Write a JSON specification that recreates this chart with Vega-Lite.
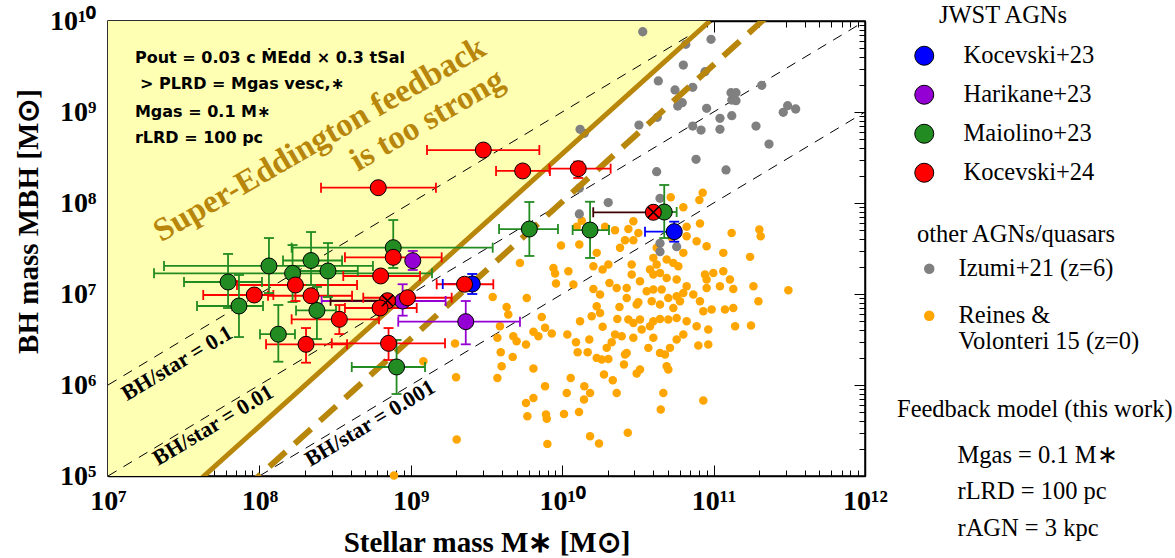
{
  "width": 757,
  "height": 455,
  "autosize": {"type": "none"},
  "padding": {"left": 108, "top": 21, "right": 310, "bottom": 82},
  "background": "white",
  "config": {
    "view": {"stroke": "black", "strokeWidth": 1.5},
    "font": "Liberation Serif",
    "axis": {"grid": false}
  },
  "datasets": {
    "feedback": [
      {"m": "solid", "lx": 7.0, "ly": 4.051},
      {"m": "solid", "lx": 10.976, "ly": 10.0},
      {"m": "dashed", "lx": 7.9, "ly": 4.854},
      {"m": "dashed", "lx": 11.4, "ly": 10.12}
    ],
    "ratios": [
      {"r": "0.1", "lx": 7, "ly": 6}, {"r": "0.1", "lx": 11, "ly": 10},
      {"r": "0.01", "lx": 7, "ly": 5}, {"r": "0.01", "lx": 12, "ly": 10},
      {"r": "0.001", "lx": 8, "ly": 5}, {"r": "0.001", "lx": 12, "ly": 9}
    ],
    "ratioLabels": [
      {"lx": 7.456, "ly": 6.242, "t": "BH/star = 0.1"},
      {"lx": 7.694, "ly": 5.56, "t": "BH/star = 0.01"},
      {"lx": 8.73, "ly": 5.582, "t": "BH/star = 0.001"}
    ],
    "notes": [
      {"lx": 7.178, "ly": 9.538, "t": "Pout = 0.03 c ṀEdd × 0.3 tSal"},
      {"lx": 7.211, "ly": 9.253, "t": "> PLRD = Mgas vesc,∗"},
      {"lx": 7.178, "ly": 8.945, "t": "Mgas = 0.1 M∗"},
      {"lx": 7.178, "ly": 8.659, "t": "rLRD = 100 pc"}
    ],
    "reines": [
      {"lx":9.992,"ly":7.532},{"lx":10.113,"ly":7.543},{"lx":10.228,"ly":7.452},{"lx":10.349,"ly":7.701},{"lx":10.382,"ly":7.507},{"lx":10.415,"ly":7.591},{"lx":10.470,"ly":7.591},{"lx":10.503,"ly":7.671},{"lx":10.470,"ly":7.800},{"lx":10.437,"ly":7.715},
      {"lx":9.721,"ly":7.342},{"lx":9.942,"ly":7.287},{"lx":9.953,"ly":7.225},{"lx":10.041,"ly":7.250},{"lx":9.959,"ly":7.115},{"lx":10.074,"ly":7.104},{"lx":10.206,"ly":7.305},{"lx":10.267,"ly":7.269},{"lx":10.305,"ly":7.323},{"lx":10.312,"ly":7.122},
      {"lx":10.206,"ly":7.056},{"lx":10.250,"ly":6.994},{"lx":10.360,"ly":7.067},{"lx":10.426,"ly":7.067},{"lx":10.426,"ly":6.957},{"lx":9.541,"ly":6.968},{"lx":9.766,"ly":6.957},{"lx":9.633,"ly":6.858},{"lx":9.644,"ly":6.774},{"lx":9.589,"ly":6.646},
      {"lx":9.865,"ly":6.748},{"lx":10.118,"ly":6.701},{"lx":10.195,"ly":6.756},{"lx":10.250,"ly":6.792},{"lx":10.228,"ly":6.866},{"lx":10.267,"ly":6.639},{"lx":10.378,"ly":6.858},{"lx":10.364,"ly":6.726},{"lx":10.437,"ly":6.719},{"lx":10.470,"ly":6.682},
      {"lx":10.503,"ly":6.910},{"lx":10.558,"ly":7.030},{"lx":10.602,"ly":7.049},{"lx":10.657,"ly":7.049},{"lx":10.580,"ly":7.269},{"lx":10.602,"ly":7.214},{"lx":10.646,"ly":7.232},{"lx":10.690,"ly":7.177},{"lx":10.756,"ly":7.159},{"lx":10.459,"ly":7.323},
      {"lx":10.459,"ly":7.214},{"lx":10.514,"ly":7.140},{"lx":10.602,"ly":7.397},{"lx":10.690,"ly":7.378},{"lx":10.734,"ly":7.342},{"lx":10.767,"ly":7.305},{"lx":10.624,"ly":7.323},{"lx":10.800,"ly":7.452},{"lx":10.723,"ly":7.617},{"lx":10.822,"ly":7.635},
      {"lx":10.888,"ly":7.580},{"lx":10.910,"ly":7.774},{"lx":10.954,"ly":7.525},{"lx":11.119,"ly":7.671},{"lx":11.302,"ly":7.708},{"lx":11.311,"ly":7.635},{"lx":11.064,"ly":7.452},{"lx":11.241,"ly":7.408},{"lx":10.943,"ly":7.214},{"lx":10.954,"ly":7.159},
      {"lx":10.998,"ly":7.232},{"lx":11.064,"ly":7.250},{"lx":11.108,"ly":7.159},{"lx":10.822,"ly":7.085},{"lx":10.800,"ly":7.012},{"lx":10.866,"ly":6.994},{"lx":10.910,"ly":6.921},{"lx":10.954,"ly":7.067},{"lx":11.042,"ly":7.085},{"lx":11.130,"ly":7.056},
      {"lx":11.263,"ly":7.085},{"lx":11.296,"ly":6.921},{"lx":11.494,"ly":7.041},{"lx":10.701,"ly":6.957},{"lx":10.756,"ly":6.976},{"lx":10.591,"ly":6.921},{"lx":10.646,"ly":6.884},{"lx":10.734,"ly":6.847},{"lx":10.778,"ly":6.921},{"lx":10.514,"ly":6.719},
      {"lx":10.580,"ly":6.646},{"lx":10.602,"ly":6.701},{"lx":10.646,"ly":6.726},{"lx":10.701,"ly":6.719},{"lx":10.756,"ly":6.737},{"lx":10.822,"ly":6.701},{"lx":10.888,"ly":6.646},{"lx":10.932,"ly":6.811},{"lx":10.987,"ly":6.829},{"lx":11.075,"ly":6.829},
      {"lx":11.130,"ly":6.847},{"lx":11.142,"ly":6.646},{"lx":11.247,"ly":6.653},{"lx":10.492,"ly":6.884},{"lx":9.572,"ly":6.518},{"lx":9.677,"ly":6.536},{"lx":9.699,"ly":6.481},{"lx":9.761,"ly":6.444},{"lx":9.810,"ly":6.584},{"lx":9.843,"ly":6.536},
      {"lx":9.887,"ly":6.628},{"lx":9.931,"ly":6.565},{"lx":10.034,"ly":6.554},{"lx":10.091,"ly":6.470},{"lx":10.102,"ly":6.360},{"lx":10.168,"ly":6.360},{"lx":10.179,"ly":6.499},{"lx":10.294,"ly":6.408},{"lx":10.327,"ly":6.470},{"lx":10.349,"ly":6.554},
      {"lx":10.393,"ly":6.536},{"lx":10.426,"ly":6.353},{"lx":10.470,"ly":6.518},{"lx":10.525,"ly":6.609},{"lx":10.602,"ly":6.518},{"lx":10.569,"ly":6.408},{"lx":10.646,"ly":6.353},{"lx":10.679,"ly":6.334},{"lx":10.712,"ly":6.408},{"lx":10.756,"ly":6.499},
      {"lx":10.800,"ly":6.554},{"lx":10.899,"ly":6.433},{"lx":10.965,"ly":6.609},{"lx":10.965,"ly":6.444},{"lx":9.594,"ly":6.360},{"lx":9.600,"ly":6.206},{"lx":9.673,"ly":6.309},{"lx":9.572,"ly":6.078},{"lx":9.810,"ly":6.181},{"lx":10.056,"ly":6.078},
      {"lx":10.146,"ly":5.986},{"lx":10.228,"ly":6.298},{"lx":10.261,"ly":6.280},{"lx":10.305,"ly":6.287},{"lx":10.276,"ly":6.115},{"lx":10.334,"ly":6.052},{"lx":10.408,"ly":6.225},{"lx":10.415,"ly":6.334},{"lx":10.492,"ly":6.126},{"lx":10.514,"ly":6.170},
      {"lx":10.690,"ly":6.206},{"lx":10.701,"ly":6.170},{"lx":9.887,"ly":5.986},{"lx":10.030,"ly":5.913},{"lx":10.144,"ly":5.840},{"lx":10.184,"ly":5.913},{"lx":10.360,"ly":5.913},{"lx":9.761,"ly":5.803},{"lx":9.810,"ly":5.858},{"lx":10.668,"ly":5.913},
      {"lx":10.651,"ly":5.730},{"lx":10.932,"ly":5.829},{"lx":9.770,"ly":5.657},{"lx":9.893,"ly":5.675},{"lx":9.898,"ly":5.628},{"lx":10.012,"ly":5.682},{"lx":10.111,"ly":5.704},{"lx":9.303,"ly":5.400},{"lx":10.184,"ly":5.437},{"lx":10.243,"ly":5.356},
      {"lx":9.902,"ly":5.353},{"lx":10.433,"ly":5.474},{"lx":9.292,"ly":6.455},{"lx":9.299,"ly":6.085},{"lx":10.928,"ly":8.114},{"lx":10.906,"ly":8.033},{"lx":10.717,"ly":8.063},{"lx":10.800,"ly":7.953},{"lx":10.283,"ly":7.740},{"lx":10.129,"ly":7.806},
      {"lx":10.096,"ly":7.740},{"lx":10.822,"ly":7.740},{"lx":10.624,"ly":7.507},{"lx":9.083,"ly":6.261},{"lx":8.889,"ly":5.005}
    ],
    "izumi": [
      {"lx":10.532,"ly":9.882},{"lx":10.983,"ly":9.799},{"lx":10.816,"ly":9.744},{"lx":10.800,"ly":9.516},{"lx":10.943,"ly":9.443},{"lx":10.635,"ly":9.341},{"lx":10.745,"ly":9.242},{"lx":10.862,"ly":9.271},{"lx":11.115,"ly":9.212},{"lx":11.148,"ly":9.212},
      {"lx":11.120,"ly":9.132},{"lx":11.148,"ly":9.124},{"lx":11.318,"ly":9.293},{"lx":10.793,"ly":9.102},{"lx":10.763,"ly":9.066},{"lx":10.954,"ly":9.041},{"lx":10.628,"ly":8.942},{"lx":11.489,"ly":9.069},{"lx":11.460,"ly":8.997},{"lx":11.542,"ly":9.033},
      {"lx":11.042,"ly":8.931},{"lx":11.120,"ly":8.959},{"lx":10.507,"ly":8.857},{"lx":10.862,"ly":8.846},{"lx":10.917,"ly":8.802},{"lx":11.042,"ly":8.810},{"lx":11.280,"ly":8.846},{"lx":10.118,"ly":8.810},{"lx":10.146,"ly":8.766},{"lx":11.366,"ly":8.648},
      {"lx":10.884,"ly":8.480},{"lx":11.082,"ly":8.363},{"lx":10.624,"ly":8.344},{"lx":10.113,"ly":8.162},{"lx":10.304,"ly":8.005},{"lx":10.113,"ly":7.879},{"lx":10.646,"ly":7.557},{"lx":10.756,"ly":7.520},{"lx":10.646,"ly":8.052},{"lx":10.646,"ly":7.465}
    ],
    "jwst": [
      {"s":"Kocevski+23","lx":9.406,"ly":7.110,"xlo":9.211,"xhi":9.444,"ylo":7.0,"yhi":7.220},
      {"s":"Kocevski+23","lx":10.740,"ly":7.685,"xlo":10.547,"xhi":10.778,"ylo":7.575,"yhi":7.795},
      {"s":"Harikane+23","lx":9.013,"ly":7.366,"ylo":7.264,"yhi":7.473},
      {"s":"Harikane+23","lx":8.946,"ly":6.923,"xlo":8.411,"xhi":9.230,"ylo":6.762,"yhi":7.107},
      {"s":"Harikane+23","lx":9.363,"ly":6.696,"xlo":8.917,"xhi":9.721,"ylo":6.447,"yhi":6.923},
      {"s":"Maiolino+23","lx":7.793,"ly":7.132,"xlo":7.502,"xhi":8.017,"ylo":6.846,"yhi":7.440},
      {"s":"Maiolino+23","lx":7.865,"ly":6.868,"xlo":7.588,"xhi":8.024,"ylo":6.527,"yhi":7.209},
      {"s":"Maiolino+23","lx":8.063,"ly":7.308,"xlo":7.370,"xhi":8.750,"ylo":7.011,"yhi":7.615},
      {"s":"Maiolino+23","lx":8.219,"ly":7.227,"xlo":7.304,"xhi":9.140,"ylo":6.912,"yhi":7.538},
      {"s":"Maiolino+23","lx":8.341,"ly":7.368,"xlo":8.156,"xhi":8.546,"ylo":7.099,"yhi":7.681},
      {"s":"Maiolino+23","lx":8.453,"ly":7.253,"xlo":8.26,"xhi":8.65,"ylo":6.967,"yhi":7.560},
      {"s":"Maiolino+23","lx":8.884,"ly":7.509,"xlo":8.213,"xhi":9.541,"ylo":7.286,"yhi":7.813},
      {"s":"Maiolino+23","lx":8.380,"ly":6.819,"xlo":8.242,"xhi":8.506,"ylo":6.505,"yhi":7.077},
      {"s":"Maiolino+23","lx":8.125,"ly":6.558,"xlo":8.004,"xhi":8.235,"ylo":6.256,"yhi":6.879},
      {"s":"Maiolino+23","lx":8.906,"ly":6.198,"xlo":8.610,"xhi":9.094,"ylo":5.901,"yhi":6.495},
      {"s":"Maiolino+23","lx":9.783,"ly":7.714,"xlo":9.583,"xhi":9.972,"ylo":7.418,"yhi":8.011},
      {"s":"Maiolino+23","lx":10.184,"ly":7.703,"xlo":10.069,"xhi":10.309,"ylo":7.396,"yhi":8.014},
      {"s":"Maiolino+23","lx":10.674,"ly":7.901,"xlo":10.580,"xhi":10.756,"ylo":7.615,"yhi":8.198},
      {"s":"Kocevski+24","lx":9.479,"ly":8.582,"xlo":9.107,"xhi":9.849},
      {"s":"Kocevski+24","lx":8.785,"ly":8.168,"xlo":8.407,"xhi":9.166},
      {"s":"Kocevski+24","lx":9.739,"ly":8.352,"xlo":9.563,"xhi":9.919},
      {"s":"Kocevski+24","lx":10.106,"ly":8.377,"xlo":9.915,"xhi":10.320,"ylo":8.275,"yhi":8.454},
      {"s":"Kocevski+24","lx":10.602,"ly":7.898,"xlo":10.205,"xhi":10.602,"cross":true},
      {"s":"Kocevski+24","lx":8.884,"ly":7.403,"xlo":8.565,"xhi":9.204},
      {"s":"Kocevski+24","lx":8.801,"ly":7.198,"xlo":8.554,"xhi":9.061},
      {"s":"Kocevski+24","lx":7.966,"ly":6.989,"xlo":7.629,"xhi":8.092},
      {"s":"Kocevski+24","lx":8.238,"ly":7.099,"xlo":7.852,"xhi":8.645,"ylo":6.923,"yhi":7.187},
      {"s":"Kocevski+24","lx":8.341,"ly":6.981,"xlo":8.057,"xhi":8.612},
      {"s":"Kocevski+24","lx":8.528,"ly":6.722,"xlo":8.213,"xhi":8.790,"ylo":6.560,"yhi":6.879},
      {"s":"Kocevski+24","lx":8.308,"ly":6.447,"xlo":8.044,"xhi":8.579,"ylo":6.245,"yhi":6.626},
      {"s":"Kocevski+24","lx":8.853,"ly":6.458,"xlo":8.478,"xhi":9.226,"ylo":6.275,"yhi":6.626},
      {"s":"Kocevski+24","lx":8.846,"ly":6.926,"xlo":8.470,"xhi":8.846,"cross":true},
      {"s":"Kocevski+24","lx":8.797,"ly":6.846,"xlo":8.565,"xhi":9.039},
      {"s":"Kocevski+24","lx":8.978,"ly":6.959,"xlo":8.686,"xhi":9.270},
      {"s":"Kocevski+24","lx":9.355,"ly":7.107,"xlo":9.171,"xhi":9.545}
    ]
  },
  "resolve": {"axis": {"x": "independent", "y": "independent"}},
  "layer": [
    {
      "data": {"name": "feedback"},
      "transform": [{"filter": "datum.m === 'solid'"}],
      "mark": {"type": "area", "clip": true, "color": "#FFFFB3"},
      "encoding": {
        "x": {"field": "lx", "type": "quantitative", "scale": {"domain": [7, 12], "nice": false, "zero": false},
          "axis": {"orient": "bottom",
            "values": [7,7.301,7.477,7.602,7.699,7.778,7.845,7.903,7.954,8,8.301,8.477,8.602,8.699,8.778,8.845,8.903,8.954,9,9.301,9.477,9.602,9.699,9.778,9.845,9.903,9.954,10,10.301,10.477,10.602,10.699,10.778,10.845,10.903,10.954,11,11.301,11.477,11.602,11.699,11.778,11.845,11.903,11.954,12],
            "labelExpr": "datum.value === 7 ? '10⁷' : datum.value === 8 ? '10⁸' : datum.value === 9 ? '10⁹' : datum.value === 10 ? '10¹⁰' : datum.value === 11 ? '10¹¹' : datum.value === 12 ? '10¹²' : ''",
            "tickSize": {"condition": {"test": "datum.value % 1 === 0", "value": -11}, "value": -6},
            "tickColor": "black", "tickWidth": 1, "domainColor": "black", "domainWidth": 1.5,
            "labelPadding": 22, "labelFont": "Liberation Serif", "labelFontWeight": "bold", "labelFontSize": 28, "labelColor": "black",
            "labelOverlap": false, "labelFlush": false, "labelBound": false,
            "title": "Stellar mass M∗ [M⊙]", "titleFont": "Liberation Serif", "titleFontWeight": "bold", "titleFontSize": 29, "titleColor": "black", "titlePadding": 8}},
        "y": {"field": "ly", "type": "quantitative", "scale": {"domain": [5, 10], "nice": false, "zero": false},
          "axis": {"orient": "left",
            "values": [5,5.301,5.477,5.602,5.699,5.778,5.845,5.903,5.954,6,6.301,6.477,6.602,6.699,6.778,6.845,6.903,6.954,7,7.301,7.477,7.602,7.699,7.778,7.845,7.903,7.954,8,8.301,8.477,8.602,8.699,8.778,8.845,8.903,8.954,9,9.301,9.477,9.602,9.699,9.778,9.845,9.903,9.954,10],
            "labelExpr": "datum.value === 5 ? '10⁵' : datum.value === 6 ? '10⁶' : datum.value === 7 ? '10⁷' : datum.value === 8 ? '10⁸' : datum.value === 9 ? '10⁹' : datum.value === 10 ? '10¹⁰' : ''",
            "tickSize": {"condition": {"test": "datum.value % 1 === 0", "value": -11}, "value": -6},
            "tickColor": "black", "tickWidth": 1, "domainColor": "black", "domainWidth": 1.5,
            "labelPadding": 23, "labelFont": "Liberation Serif", "labelFontWeight": "bold", "labelFontSize": 28, "labelColor": "black",
            "labelOverlap": false, "labelFlush": false, "labelBound": false,
            "title": "BH mass MBH [M⊙]", "titleFont": "Liberation Serif", "titleFontWeight": "bold", "titleFontSize": 29, "titleColor": "black", "titlePadding": 6, "titleY": 200}},
        "y2": {"datum": 10}
      }
    },
    {
      "data": {"name": "ratios"},
      "mark": {"type": "line", "clip": true, "color": "black", "strokeWidth": 1, "strokeDash": [10, 8]},
      "encoding": {
        "x": {"field": "lx", "type": "quantitative", "scale": {"domain": [7, 12], "nice": false, "zero": false}, "axis": null},
        "y": {"field": "ly", "type": "quantitative", "scale": {"domain": [5, 10], "nice": false, "zero": false}, "axis": null},
        "detail": {"field": "r"}
      }
    },
    {
      "data": {"name": "reines"},
      "mark": {"type": "circle", "size": 72, "opacity": 1},
      "encoding": {
        "x": {"field": "lx", "type": "quantitative", "scale": {"domain": [7, 12], "nice": false, "zero": false}, "axis": null},
        "y": {"field": "ly", "type": "quantitative", "scale": {"domain": [5, 10], "nice": false, "zero": false}, "axis": null},
        "color": {"datum": "Reines & Volonteri 15 (z=0)", "type": "nominal",
          "scale": {"domain": ["Izumi+21 (z=6)", "Reines & Volonteri 15 (z=0)"], "range": ["#808080", "#FFA500"]},
          "legend": {"title": "other AGNs/quasars", "orient": "none", "legendX": 809, "legendY": 202, "direction": "vertical",
            "titleFont": "Liberation Serif", "titleFontSize": 24.5, "titleFontWeight": "normal", "titleColor": "black", "titleAnchor": "start", "titlePadding": 9, "titleLimit": 400,
            "labelFont": "Liberation Serif", "labelFontSize": 24.5, "labelColor": "black", "labelOffset": 17, "labelLimit": 400,
            "labelExpr": "datum.label === 'Reines & Volonteri 15 (z=0)' ? ['Reines &', 'Volonteri 15 (z=0)'] : datum.label",
            "symbolType": "circle", "symbolSize": 110, "symbolStrokeWidth": 0, "rowPadding": 22, "padding": 0}}
      }
    },
    {
      "data": {"name": "izumi"},
      "mark": {"type": "circle", "size": 86, "opacity": 1},
      "encoding": {
        "x": {"field": "lx", "type": "quantitative", "scale": {"domain": [7, 12], "nice": false, "zero": false}, "axis": null},
        "y": {"field": "ly", "type": "quantitative", "scale": {"domain": [5, 10], "nice": false, "zero": false}, "axis": null},
        "color": {"datum": "Izumi+21 (z=6)", "type": "nominal"}
      }
    },
    {
      "data": {"name": "feedback"},
      "transform": [{"filter": "datum.m === 'solid'"}],
      "mark": {"type": "line", "clip": true, "color": "#B8860B", "strokeWidth": 5},
      "encoding": {
        "x": {"field": "lx", "type": "quantitative", "scale": {"domain": [7, 12], "nice": false, "zero": false},
          "axis": {"orient": "top", "labels": false, "title": null,
            "values": [7,7.301,7.477,7.602,7.699,7.778,7.845,7.903,7.954,8,8.301,8.477,8.602,8.699,8.778,8.845,8.903,8.954,9,9.301,9.477,9.602,9.699,9.778,9.845,9.903,9.954,10,10.301,10.477,10.602,10.699,10.778,10.845,10.903,10.954,11,11.301,11.477,11.602,11.699,11.778,11.845,11.903,11.954,12],
            "tickSize": {"condition": {"test": "datum.value % 1 === 0", "value": -11}, "value": -6},
            "tickColor": "black", "tickWidth": 1, "domainColor": "black", "domainWidth": 1.5}},
        "y": {"field": "ly", "type": "quantitative", "scale": {"domain": [5, 10], "nice": false, "zero": false},
          "axis": {"orient": "right", "labels": false, "title": null,
            "values": [5,5.301,5.477,5.602,5.699,5.778,5.845,5.903,5.954,6,6.301,6.477,6.602,6.699,6.778,6.845,6.903,6.954,7,7.301,7.477,7.602,7.699,7.778,7.845,7.903,7.954,8,8.301,8.477,8.602,8.699,8.778,8.845,8.903,8.954,9,9.301,9.477,9.602,9.699,9.778,9.845,9.903,9.954,10],
            "tickSize": {"condition": {"test": "datum.value % 1 === 0", "value": -11}, "value": -6},
            "tickColor": "black", "tickWidth": 1, "domainColor": "black", "domainWidth": 1.5}}
      }
    },
    {
      "data": {"name": "feedback"},
      "transform": [{"filter": "datum.m === 'dashed'"}],
      "mark": {"type": "line", "clip": true, "color": "#B8860B", "strokeWidth": 6, "strokeDash": [22, 12]},
      "encoding": {
        "x": {"field": "lx", "type": "quantitative", "scale": {"domain": [7, 12], "nice": false, "zero": false}, "axis": null},
        "y": {"field": "ly", "type": "quantitative", "scale": {"domain": [5, 10], "nice": false, "zero": false}, "axis": null}
      }
    },
    {
      "data": {"values": [{"lx": 9.477, "ly": 9.735, "t": "Super-Eddington feedback\nis too strong"}]},
      "mark": {"type": "text", "font": "Liberation Serif", "fontWeight": "bold", "fontSize": 33, "color": "#B8860B", "angle": -30, "align": "right", "baseline": "middle", "lineBreak": "\n", "lineHeight": 37},
      "encoding": {
        "x": {"field": "lx", "type": "quantitative", "scale": {"domain": [7, 12], "nice": false, "zero": false}, "axis": null},
        "y": {"field": "ly", "type": "quantitative", "scale": {"domain": [5, 10], "nice": false, "zero": false}, "axis": null},
        "text": {"field": "t"}
      }
    },
    {
      "data": {"name": "ratioLabels"},
      "mark": {"type": "text", "font": "Liberation Serif", "fontWeight": "bold", "fontSize": 22, "color": "black", "angle": -31, "align": "center", "baseline": "middle"},
      "encoding": {
        "x": {"field": "lx", "type": "quantitative", "scale": {"domain": [7, 12], "nice": false, "zero": false}, "axis": null},
        "y": {"field": "ly", "type": "quantitative", "scale": {"domain": [5, 10], "nice": false, "zero": false}, "axis": null},
        "text": {"field": "t"}
      }
    },
    {
      "data": {"name": "notes"},
      "mark": {"type": "text", "font": "DejaVu Sans", "fontWeight": "bold", "fontSize": 16, "color": "black", "align": "left", "baseline": "alphabetic"},
      "encoding": {
        "x": {"field": "lx", "type": "quantitative", "scale": {"domain": [7, 12], "nice": false, "zero": false}, "axis": null},
        "y": {"field": "ly", "type": "quantitative", "scale": {"domain": [5, 10], "nice": false, "zero": false}, "axis": null},
        "text": {"field": "t"}
      }
    },
    {
      "data": {"name": "jwst"},
      "transform": [{"filter": "isValid(datum.xlo)"}],
      "mark": {"type": "rule", "strokeWidth": 1.8},
      "encoding": {
        "x": {"field": "xlo", "type": "quantitative", "scale": {"domain": [7, 12], "nice": false, "zero": false}, "axis": null},
        "x2": {"field": "xhi"},
        "y": {"field": "ly", "type": "quantitative", "scale": {"domain": [5, 10], "nice": false, "zero": false}, "axis": null},
        "stroke": {"condition": [{"test": "datum.cross === true", "value": "#3d0000"}, {"test": "datum.s === 'Kocevski+23'", "value": "#0000FF"}, {"test": "datum.s === 'Harikane+23'", "value": "#9400D3"}, {"test": "datum.s === 'Maiolino+23'", "value": "#228B22"}], "value": "#FF0000"}
      }
    },
    {
      "data": {"name": "jwst"},
      "transform": [{"filter": "isValid(datum.ylo)"}],
      "mark": {"type": "rule", "strokeWidth": 1.8},
      "encoding": {
        "x": {"field": "lx", "type": "quantitative", "scale": {"domain": [7, 12], "nice": false, "zero": false}, "axis": null},
        "y": {"field": "ylo", "type": "quantitative", "scale": {"domain": [5, 10], "nice": false, "zero": false}, "axis": null},
        "y2": {"field": "yhi"},
        "stroke": {"condition": [{"test": "datum.s === 'Kocevski+23'", "value": "#0000FF"}, {"test": "datum.s === 'Harikane+23'", "value": "#9400D3"}, {"test": "datum.s === 'Maiolino+23'", "value": "#228B22"}], "value": "#FF0000"}
      }
    },
    {
      "data": {"name": "jwst"},
      "transform": [{"filter": "isValid(datum.xlo)"}, {"fold": ["xlo", "xhi"], "as": ["end", "xe"]}],
      "mark": {"type": "point", "shape": "M0,-1L0,1", "filled": false, "size": 100, "strokeWidth": 1.8, "opacity": 1},
      "encoding": {
        "x": {"field": "xe", "type": "quantitative", "scale": {"domain": [7, 12], "nice": false, "zero": false}, "axis": null},
        "y": {"field": "ly", "type": "quantitative", "scale": {"domain": [5, 10], "nice": false, "zero": false}, "axis": null},
        "stroke": {"condition": [{"test": "datum.cross === true", "value": "#3d0000"}, {"test": "datum.s === 'Kocevski+23'", "value": "#0000FF"}, {"test": "datum.s === 'Harikane+23'", "value": "#9400D3"}, {"test": "datum.s === 'Maiolino+23'", "value": "#228B22"}], "value": "#FF0000"}
      }
    },
    {
      "data": {"name": "jwst"},
      "transform": [{"filter": "isValid(datum.ylo)"}, {"fold": ["ylo", "yhi"], "as": ["end", "ye"]}],
      "mark": {"type": "point", "shape": "M-1,0L1,0", "filled": false, "size": 100, "strokeWidth": 1.8, "opacity": 1},
      "encoding": {
        "x": {"field": "lx", "type": "quantitative", "scale": {"domain": [7, 12], "nice": false, "zero": false}, "axis": null},
        "y": {"field": "ye", "type": "quantitative", "scale": {"domain": [5, 10], "nice": false, "zero": false}, "axis": null},
        "stroke": {"condition": [{"test": "datum.s === 'Kocevski+23'", "value": "#0000FF"}, {"test": "datum.s === 'Harikane+23'", "value": "#9400D3"}, {"test": "datum.s === 'Maiolino+23'", "value": "#228B22"}], "value": "#FF0000"}
      }
    },
    {
      "data": {"name": "jwst"},
      "mark": {"type": "point", "shape": "circle", "filled": true, "size": 256, "stroke": "black", "strokeWidth": 1, "opacity": 1},
      "encoding": {
        "x": {"field": "lx", "type": "quantitative", "scale": {"domain": [7, 12], "nice": false, "zero": false}, "axis": null},
        "y": {"field": "ly", "type": "quantitative", "scale": {"domain": [5, 10], "nice": false, "zero": false}, "axis": null},
        "fill": {"field": "s", "type": "nominal",
          "scale": {"domain": ["Kocevski+23", "Harikane+23", "Maiolino+23", "Kocevski+24"], "range": ["#0000FF", "#9400D3", "#228B22", "#FF0000"]},
          "legend": {"title": "JWST AGNs", "orient": "none", "legendX": 804, "legendY": -17, "direction": "vertical",
            "titleFont": "Liberation Serif", "titleFontSize": 24.5, "titleFontWeight": "normal", "titleColor": "black", "titleAnchor": "middle", "titleAlign": "center", "titlePadding": 15, "titleLimit": 400,
            "labelFont": "Liberation Serif", "labelFontSize": 24.5, "labelColor": "black", "labelOffset": 27, "labelLimit": 400,
            "symbolType": "circle", "symbolSize": 361, "symbolStrokeColor": "black", "symbolStrokeWidth": 1, "rowPadding": 14, "padding": 0}}
      }
    },
    {
      "data": {"name": "jwst"},
      "transform": [{"filter": "datum.cross === true"}],
      "mark": {"type": "point", "shape": "M-0.7,-0.7L0.7,0.7M-0.7,0.7L0.7,-0.7", "filled": false, "size": 256, "stroke": "black", "strokeWidth": 1.5, "opacity": 1},
      "encoding": {
        "x": {"field": "lx", "type": "quantitative", "scale": {"domain": [7, 12], "nice": false, "zero": false}, "axis": null},
        "y": {"field": "ly", "type": "quantitative", "scale": {"domain": [5, 10], "nice": false, "zero": false}, "axis": null}
      }
    },
    {
      "data": {"values": [{"k": "Mgas = 0.1 M∗"}]},
      "mark": {"type": "point", "opacity": 0},
      "encoding": {
        "shape": {"field": "k", "type": "nominal",
          "scale": {"domain": ["Mgas = 0.1 M∗", "rLRD = 100 pc", "rAGN = 3 kpc"], "range": ["circle", "circle", "circle"]},
          "legend": {"title": "Feedback model (this work)", "orient": "none", "legendX": 789, "legendY": 377, "direction": "vertical",
            "titleFont": "Liberation Serif", "titleFontSize": 24.5, "titleFontWeight": "normal", "titleColor": "black", "titleAnchor": "start", "titlePadding": 21, "titleLimit": 400,
            "labelFont": "Liberation Serif", "labelFontSize": 24.5, "labelColor": "black", "labelOffset": 36, "labelLimit": 400,
            "symbolOpacity": 0, "symbolSize": 100, "rowPadding": 11.5, "padding": 0}}
      }
    }
  ]
}
